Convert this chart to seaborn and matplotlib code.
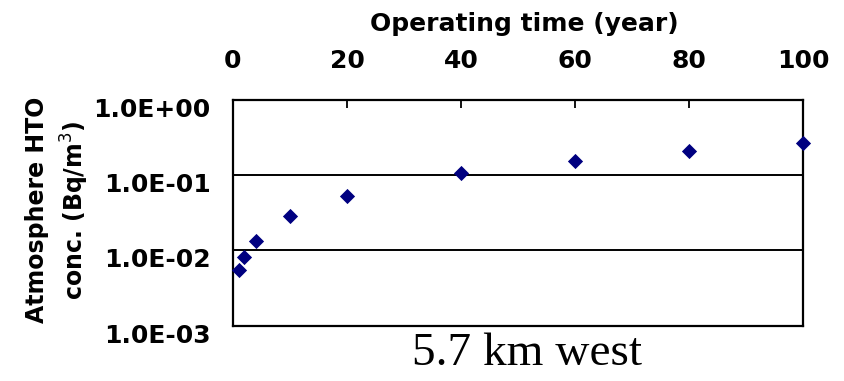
import matplotlib
matplotlib.use("Agg")
import matplotlib.pyplot as plt
import matplotlib.transforms as mtransforms
import seaborn as sns
import pandas as pd

years = [1, 2, 4, 10, 20, 40, 60, 80, 100]
conc = [0.0055, 0.0081, 0.0132, 0.029, 0.053, 0.105, 0.155, 0.208, 0.263]
x_ticks = [0, 20, 40, 60, 80, 100]
y_ticks = [1e-3, 1e-2, 1e-1, 1e0]
y_tick_labels = ["1.0E-03", "1.0E-02", "1.0E-01", "1.0E+00"]

sns.set_theme(style="white")
plt.rcParams['font.family'] = ['DejaVu Sans']
plt.rcParams['text.color'] = 'black'
plt.rcParams['xtick.color'] = 'black'
plt.rcParams['ytick.color'] = 'black'
plt.rcParams['axes.labelcolor'] = 'black'

df = pd.DataFrame({"year": years, "conc": conc})

fig = plt.figure(figsize=(8.45, 3.81), dpi=100)
ax = fig.add_axes([0.2757, 0.1444, 0.6746, 0.5944])

sns.scatterplot(data=df, x="year", y="conc", marker="D", s=60, color="#000080",
                edgecolor="#000080", linewidth=0, ax=ax, clip_on=False, zorder=5)

ax.set_yscale("log")
ax.set_ylim(1e-3, 1e0)
ax.set_xlim(0, 100)
ax.set_yticks(y_ticks)
ax.set_yticklabels(y_tick_labels)
ax.minorticks_off()
ax.set_xticks(x_ticks)

for y in [1e-2, 1e-1]:
    ax.axhline(y, color="black", lw=1.4, zorder=1)

ax.xaxis.tick_top()
ax.xaxis.set_label_position("top")
ax.tick_params(axis="x", direction="in", length=6, width=1.3, color="black",
               pad=19, labelsize=18, top=True, bottom=False, labelcolor="black")
ax.tick_params(axis="y", length=0, pad=16, labelsize=18, labelcolor="black")
for lab in ax.get_xticklabels() + ax.get_yticklabels():
    lab.set_fontweight("bold")
offset = mtransforms.ScaledTranslation(0, -7.5 / 100, fig.dpi_scale_trans)
for lab in ax.get_yticklabels():
    lab.set_transform(lab.get_transform() + offset)

for sp in ax.spines.values():
    sp.set_color("black")
    sp.set_linewidth(1.6)

ax.set_xlabel("")
ax.set_ylabel("")
fig.text(0.620, 0.919, "Operating time (year)", ha="center", va="baseline",
         fontsize=18, fontweight="bold", color="black")
fig.text(0.069, 0.449, "Atmosphere HTO\nconc. (Bq/m$^3$)", ha="center", va="center",
         rotation=90, fontsize=17, fontweight="bold", linespacing=1.4, color="black")
fig.text(0.624, 0.072, "5.7 km west", ha="center", va="center",
         fontsize=34, family="Liberation Serif", color="black")

fig.savefig("out.png", dpi=100)
